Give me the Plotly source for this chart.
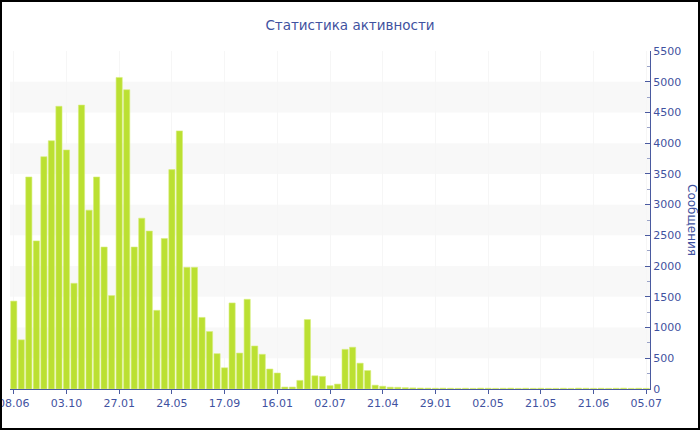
import plotly.graph_objects as go

# ---- data ----
tick_labels = ["08.06", "03.10", "27.01", "24.05", "17.09", "16.01", "02.07",
               "21.04", "29.01", "02.05", "21.05", "21.06", "05.07"]

messages = [
    1430, 800, 3450, 2410, 3780, 4040, 4600, 3890, 1720, 4620,
    2910, 3450, 2310, 1520, 5070, 4870, 2310, 2780, 2570, 1280,
    2450, 3570, 4200, 1980, 1980, 1165, 935, 575, 345, 1400,
    585, 1460, 700, 565, 325, 260, 32, 32, 140, 1130,
    215, 205, 55, 80, 645, 680, 420, 300, 62, 45,
    30, 28, 22, 18, 16, 14, 12, 14, 12, 10,
    12, 10, 14, 12, 10, 12, 14, 10, 12, 10,
    12, 10, 10, 12, 10, 14, 12, 10, 12, 10,
    12, 14, 10, 12, 10,
]
categories = list(range(len(messages)))
tick_step = 7

title_text = "Статистика активности"
y_title = "Сообщения"

# ---- styling ----
W, H = 700, 430
ML, MR, MT, MB = 10, 50, 51, 41
blue = "#4a5aa0"
text_blue = "#3f52a0"
bar_color = "#bbe032"
font_family = "DejaVu Sans, Verdana, sans-serif"

fig = go.Figure()
fig.add_trace(go.Bar(
    x=categories, y=messages,
    marker=dict(color=bar_color, line=dict(color="#d6ef7a", width=0.6)),
    hoverinfo="x+y",
))

# alternating bands
for lo in range(500, 5500, 1000):
    fig.add_shape(type="rect", xref="paper", yref="y", x0=0, x1=1, y0=lo, y1=lo + 500,
                  fillcolor="#f8f8f8", line=dict(width=0), layer="below")

# outer border of the picture
pw, ph = W - ML - MR, H - MT - MB
fig.add_shape(type="rect", xref="paper", yref="paper",
              x0=(-ML + 1) / pw, x1=(W - ML - 1) / pw,
              y0=(-MB + 1) / ph, y1=(H - MB - 1) / ph,
              line=dict(color="black", width=2), fillcolor="rgba(0,0,0,0)")

fig.add_annotation(text=y_title, xref="paper", yref="paper",
                   x=(W - 8 - ML) / pw, y=0.5, xanchor="center", yanchor="middle",
                   textangle=90, showarrow=False,
                   font=dict(size=12, color=text_blue, family=font_family))

fig.update_layout(
    width=W, height=H,
    margin=dict(l=ML, r=MR, t=MT, b=MB, autoexpand=False),
    paper_bgcolor="white", plot_bgcolor="white",
    bargap=0.18,
    showlegend=False,
    font=dict(family=font_family, size=11, color=text_blue),
    title=dict(text=title_text, x=0.5, xanchor="center", y=1 - 25 / H, yanchor="middle",
               font=dict(size=13.5, color=text_blue, family=font_family)),
)
fig.update_xaxes(
    automargin=False,
    range=[-0.5, len(messages) - 0.5],
    tickmode="array",
    tickvals=categories[::tick_step],
    ticktext=tick_labels,
    ticklabeloverflow="allow",
    showline=True, linecolor=blue, linewidth=1,
    ticks="outside", ticklen=4, tickcolor=blue,
    showgrid=True, gridcolor="#f6f6f6", gridwidth=1,
    tickfont=dict(size=11, color=text_blue),
    zeroline=False,
)
fig.update_yaxes(
    automargin=False,
    side="right",
    range=[0, 5500],
    dtick=500,
    showline=True, linecolor=blue, linewidth=1,
    ticks="inside", ticklen=5, tickcolor=blue,
    minor=dict(ticks="inside", ticklen=3, tickcolor="#9aa3c8", dtick=250),
    showgrid=False, zeroline=False,
    tickfont=dict(size=11, color=text_blue),
)

fig.write_html("out.html", config={"displayModeBar": False},
               post_script="document.body.style.margin='0';")
